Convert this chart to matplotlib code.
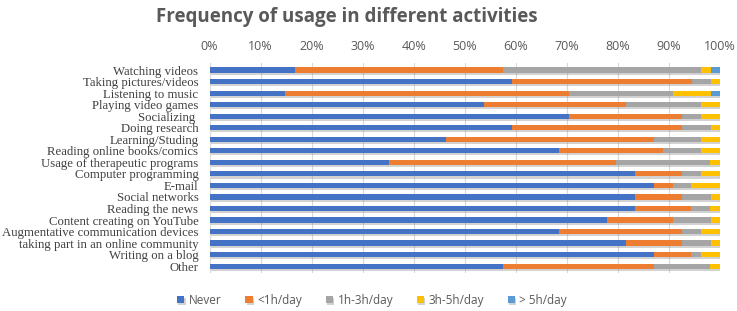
import matplotlib
matplotlib.use("Agg")
import matplotlib.pyplot as plt
import matplotlib.patheffects as pe
import numpy as np

# share of respondents (%) per activity
activities = [
    "Watching videos", "Taking pictures/videos", "Listening to music",
    "Playing video games", "Socializing ", "Doing research",
    "Learning/Studing", "Reading online books/comics",
    "Usage of therapeutic programs", "Computer programming", "E-mail",
    "Social networks", "Reading the news", "Content creating on YouTube",
    "Augmentative communication devices", "taking part in an online community",
    "Writing on a blog", "Other",
]
never = [16.7, 59.3, 14.8, 53.7, 70.4, 59.3, 46.3, 68.5, 35.2,
         83.3, 87.0, 83.3, 83.3, 77.8, 68.5, 81.5, 87.0, 57.4]
lt1h = [40.7, 35.2, 55.6, 27.8, 22.2, 33.3, 40.7, 20.4, 44.4,
        9.3, 3.7, 9.3, 11.1, 13.0, 24.1, 11.1, 7.4, 29.6]
h1_3 = [38.9, 3.7, 20.4, 14.8, 3.7, 5.6, 9.3, 7.4, 18.5,
        3.7, 3.7, 5.6, 3.7, 7.4, 3.7, 5.6, 1.9, 11.1]
h3_5 = [1.9, 1.9, 7.4, 3.7, 3.7, 1.9, 3.7, 3.7, 1.9,
        3.7, 5.6, 1.9, 1.9, 1.9, 3.7, 1.9, 3.7, 1.9]
gt5h = [1.9, 0, 1.9, 0, 0, 0, 0, 0, 0,
        0, 0, 0, 0, 0, 0, 0, 0, 0]

series = [never, lt1h, h1_3, h3_5, gt5h]
labels = ["Never", "<1h/day", "1h-3h/day", "3h-5h/day", "> 5h/day"]
colors = ["#4472C4", "#ED7D31", "#A5A5A5", "#FFC000", "#5B9BD5"]

fig = plt.figure(figsize=(7.37, 3.11), dpi=100)
ax = fig.add_axes([0.2843, 0.122, 0.6927, 0.675])

y = np.arange(len(activities))
left = np.zeros(len(activities))
shadow = [pe.SimplePatchShadow(offset=(0.8, -1.5), shadow_rgbFace="#7f7f7f", alpha=0.35), pe.Normal()]
for vals, lab, col in zip(series, labels, colors):
    bars = ax.barh(y, vals, left=left, height=0.45, color=col, label=lab, zorder=3)
    for b in bars:
        b.set_path_effects(shadow)
    left += np.array(vals)

ax.set_xlim(0, 100)
ax.set_ylim(len(activities) - 0.4, -0.6)
ax.set_xticks(np.arange(0, 101, 10))
ax.set_xticklabels([f"{v}%" for v in range(0, 101, 10)])
ax.xaxis.tick_top()
ax.tick_params(axis="x", length=0, pad=7, labelsize=9, labelcolor="#595959")
ax.tick_params(axis="y", length=0, pad=8)
ax.set_yticks(y)
ax.set_yticklabels(activities, family="Liberation Serif", fontsize=9.2, color="#404040")
for lbl in ax.get_xticklabels():
    lbl.set_family("Open Sans")
ax.grid(axis="x", color="#d9d9d9", linewidth=0.8, zorder=0)
for s in ax.spines.values():
    s.set_visible(False)

fig.text(0.471, 0.945, "Frequency of usage in different activities", ha="center", va="center",
         fontsize=13.5, fontweight="bold", color="#595959", family="Open Sans")

leg = fig.legend(loc="center", bbox_to_anchor=(0.505, 0.035), ncol=5, frameon=False,
                 handlelength=0.6, handleheight=0.6, handletextpad=0.4, columnspacing=2.0,
                 prop={"family": "Open Sans", "size": 8.5})
for t in leg.get_texts():
    t.set_color("#595959")

fig.savefig("out.png", dpi=100)
